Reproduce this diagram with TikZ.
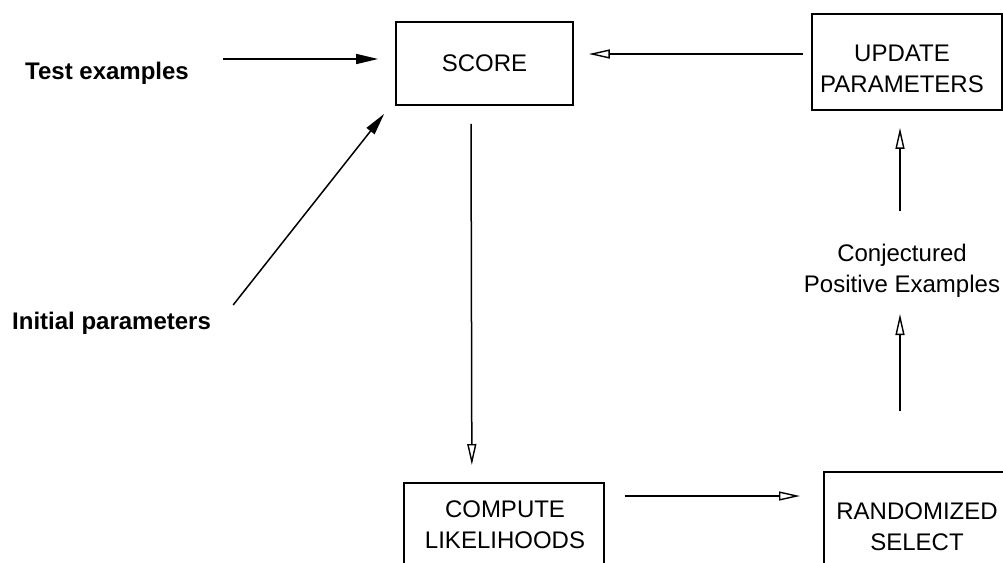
\documentclass[tikz,border=0pt]{standalone}
\usepackage{fontspec}
\setmainfont{Liberation Sans}
\usetikzlibrary{arrows.meta,calc}
\tikzset{
  box/.style={draw, line width=1.7pt, rectangle, inner sep=0pt},
  txt/.style={font=\fontsize{24}{31}\selectfont, align=center, inner sep=0pt},
  lbl/.style={font=\fontsize{24}{31}\selectfont\bfseries, inner sep=0pt},
  fillarr/.style={line width=1.5pt, -{Triangle[length=22pt,width=10pt]}},
  openarr/.style={line width=1.5pt, -{Triangle[open,length=21pt,width=9pt,line width=1.4pt]}}
}
\begin{document}
\begin{tikzpicture}[x=1pt,y=-1pt]
\useasboundingbox (0,0) rectangle (1003,562);
\clip (0,0) rectangle (1003,562);
% boxes
\node[box, minimum width=177pt, minimum height=83pt] (score) at (484.5,63.5) {};
\node[txt] (scoretxt) at (score.center) {SCORE};
\node[box, minimum width=190pt, minimum height=96pt] (update) at (907,62) {};
\node[txt] (updatetxt) at (902,69) {UPDATE\\PARAMETERS};
\node[box, anchor=north west, minimum width=200pt, minimum height=140pt] (computebox) at (403,482) {};
\node[txt] (compute) at (505,525) {COMPUTE\\LIKELIHOODS};
\node[box, anchor=north west, minimum width=220pt, minimum height=140pt] (randbox) at (823,471) {};
\node[txt] (rand) at (917,527) {RANDOMIZED\\SELECT};
\node[txt] (conj) at (902,271) {Conjectured\\Positive Examples};
% labels
\node[lbl, anchor=base west] (test) at (25,79) {Test examples};
\node[lbl, anchor=base west] (init) at (12,329) {Initial parameters};
% connectors
\draw[fillarr] ($(test.base east)+(34,-20)$) -- ($(score.west)+(-17,-4.5)$);
\draw[fillarr] ($(init.base east)+(22,-24)$) -- ($(score.south west)+(-11,8)$);
\draw[openarr] ($(update.west)+(-8,-8)$) -- ($(score.east)+(15,-9.5)$);
\draw[openarr] ($(score.south)+(-13.5,18)$) -- ($(computebox.north)+(-32,-17)$);
\draw[openarr] ($(computebox.north east)+(20,14)$) -- ($(randbox.north west)+(-23,25)$);
\draw[openarr] ($(conj.center)+(-2,140)$) -- ($(conj.center)+(-2,43)$);
\draw[openarr] ($(conj.center)+(-2,-60)$) -- ($(update.south)+(-7,17)$);
\end{tikzpicture}
\end{document}
